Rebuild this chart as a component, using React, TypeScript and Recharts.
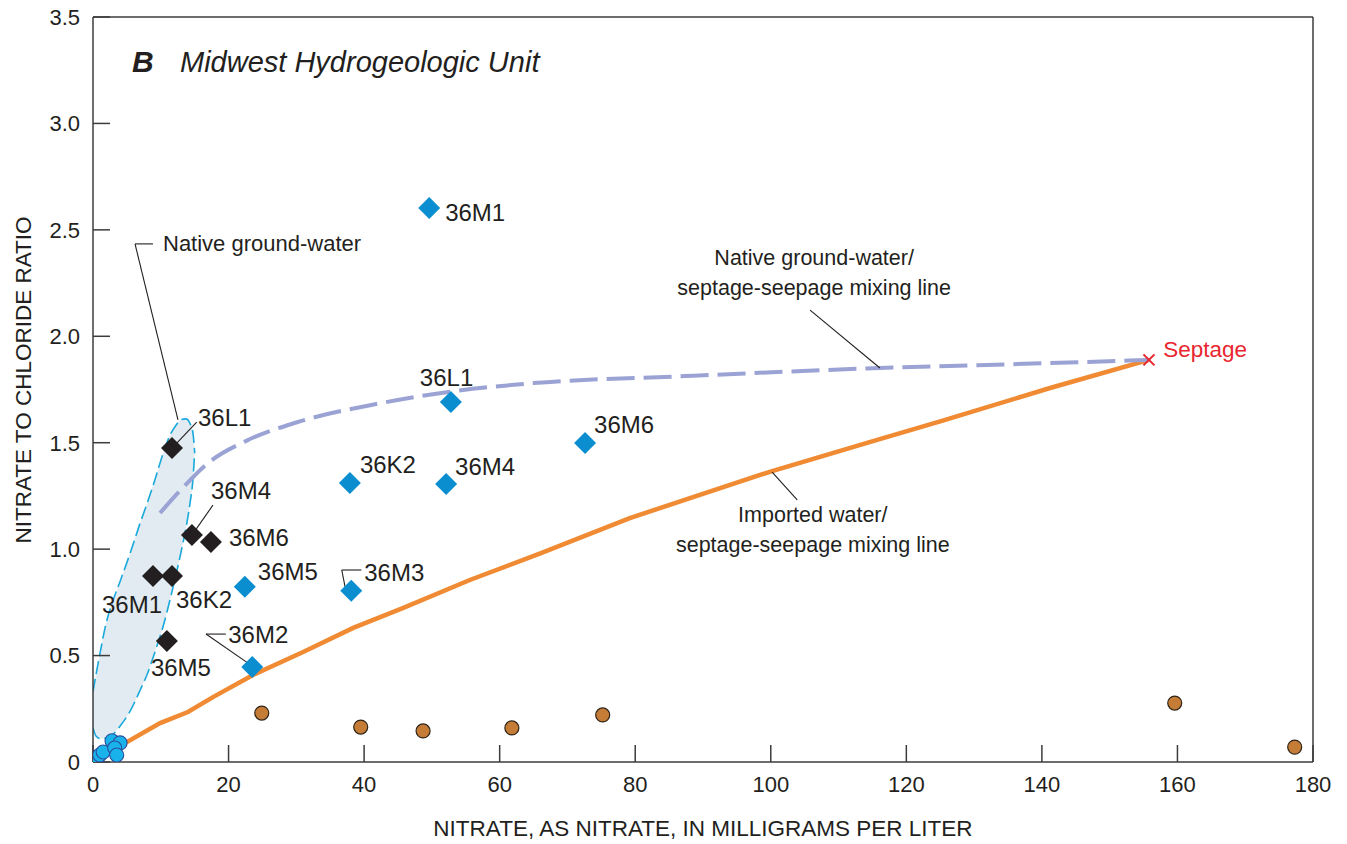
import React from 'react';
import {
  ComposedChart,
  XAxis,
  YAxis,
  Scatter,
  Line,
  Area,
  ReferenceLine,
  ReferenceDot,
  Label,
} from 'recharts';

const FONT = '"Liberation Sans", Arial, Helvetica, sans-serif';
const INK = '#231f20';
const AXIS = '#3c3c3c';

// ---------- axes ----------
const xTicks = [0, 20, 40, 60, 80, 100, 120, 140, 160, 180];
const yTicks = [0, 0.5, 1, 1.5, 2, 2.5, 3, 3.5];

// ---------- data ----------
// Midwest hydrogeologic unit wells (blue diamonds)
const midwestWells = [
  { x: 49.6, y: 2.603, name: '36M1' },
  { x: 52.8, y: 1.691, name: '36L1' },
  { x: 72.6, y: 1.499, name: '36M6' },
  { x: 37.9, y: 1.311, name: '36K2' },
  { x: 52.1, y: 1.306, name: '36M4' },
  { x: 22.4, y: 0.823, name: '36M5' },
  { x: 38.1, y: 0.805, name: '36M3' },
  { x: 23.5, y: 0.446, name: '36M2' },
];

// Same wells, other sampling (black diamonds)
const otherWells = [
  { x: 11.66, y: 1.475, name: '36L1' },
  { x: 14.6, y: 1.066, name: '36M4' },
  { x: 17.4, y: 1.034, name: '36M6' },
  { x: 8.85, y: 0.874, name: '36M1' },
  { x: 11.66, y: 0.874, name: '36K2' },
  { x: 10.9, y: 0.568, name: '36M5' },
];

// Imported water (brown circles)
const importedWater = [
  { x: 24.9, y: 0.23 },
  { x: 39.5, y: 0.164 },
  { x: 48.7, y: 0.146 },
  { x: 61.8, y: 0.16 },
  { x: 75.2, y: 0.221 },
  { x: 159.6, y: 0.277 },
  { x: 177.3, y: 0.07 },
];

// Native ground water (cyan circles)
const nativeGroundWater = [
  { x: 0.3, y: 0.014 },
  { x: 0.6, y: 0.02 },
  { x: 1.0, y: 0.033 },
  { x: 1.5, y: 0.047 },
  { x: 2.8, y: 0.1 },
  { x: 4.0, y: 0.09 },
  { x: 3.2, y: 0.066 },
  { x: 3.5, y: 0.033 },
];

const septage = [{ x: 155.8, y: 1.889 }];

// Imported water / septage-seepage mixing line
const importedMixingLine = [
  { x: 3.25, y: 0.047 },
  { x: 5.0, y: 0.094 },
  { x: 9.9, y: 0.183 },
  { x: 14.0, y: 0.235 },
  { x: 17.7, y: 0.305 },
  { x: 23.6, y: 0.409 },
  { x: 31.0, y: 0.517 },
  { x: 38.4, y: 0.63 },
  { x: 45.7, y: 0.723 },
  { x: 55.6, y: 0.855 },
  { x: 66.0, y: 0.98 },
  { x: 79.2, y: 1.146 },
  { x: 100.2, y: 1.367 },
  { x: 115.7, y: 1.513 },
  { x: 125.0, y: 1.6 },
  { x: 141.2, y: 1.757 },
  { x: 155.8, y: 1.889 },
];

// Native ground-water / septage-seepage mixing line
const nativeMixingLine = [
  { x: 9.9, y: 1.17 },
  { x: 13.3, y: 1.29 },
  { x: 16.8, y: 1.4 },
  { x: 22.7, y: 1.51 },
  { x: 30.0, y: 1.595 },
  { x: 42.3, y: 1.685 },
  { x: 52.8, y: 1.74 },
  { x: 65.0, y: 1.78 },
  { x: 87.3, y: 1.813 },
  { x: 116.1, y: 1.851 },
  { x: 141.2, y: 1.874 },
  { x: 155.8, y: 1.889 },
];

// Native ground-water envelope (lower, upper) read along x
const envelopeX = [0, 0.44, 1.03, 1.92, 2.95, 3.98, 5.46, 6.93, 7.97, 9.15, 10.33, 11.36, 12.25, 12.98, 13.72, 14.31, 14.75, 15.0];
const envelopeLow = [0.16, 0.122, 0.11, 0.112, 0.13, 0.168, 0.238, 0.336, 0.41, 0.518, 0.635, 0.762, 0.88, 0.985, 1.1, 1.215, 1.33, 1.456];
const envelopeHigh = [0.33, 0.41, 0.51, 0.65, 0.758, 0.847, 0.979, 1.12, 1.214, 1.327, 1.449, 1.535, 1.582, 1.608, 1.612, 1.59, 1.545, 1.456];
const nativeEnvelope = envelopeX.map((x, i) => ({ x, range: [envelopeLow[i], envelopeHigh[i]] }));

// Leader lines (data units)
const leaderLines = [
  [{ x: 8.85, y: 2.434 }, { x: 6.2, y: 2.434 }],
  [{ x: 6.2, y: 2.434 }, { x: 12.54, y: 1.607 }],
  [{ x: 11.66, y: 1.475 }, { x: 15.3, y: 1.597 }],
  [{ x: 14.6, y: 1.066 }, { x: 17.7, y: 1.207 }],
  [{ x: 16.67, y: 0.601 }, { x: 19.6, y: 0.601 }],
  [{ x: 16.67, y: 0.601 }, { x: 23.3, y: 0.455 }],
  [{ x: 36.7, y: 0.902 }, { x: 39.6, y: 0.902 }],
  [{ x: 36.7, y: 0.902 }, { x: 37.2, y: 0.822 }],
  [{ x: 105.8, y: 2.123 }, { x: 116.1, y: 1.851 }],
  [{ x: 100.2, y: 1.362 }, { x: 103.9, y: 1.231 }],
];

// Text notes placed in data units
const notes = [
  { x: 5.75, y: 3.289, text: 'B', kind: 'panel' },
  { x: 12.84, y: 3.289, text: 'Midwest Hydrogeologic Unit', kind: 'title' },
  { x: 10.33, y: 2.434, text: 'Native ground-water', kind: 'note' },
  { x: 106.4, y: 2.368, text: 'Native ground-water/', kind: 'noteC' },
  { x: 106.4, y: 2.227, text: 'septage-seepage mixing line', kind: 'noteC' },
  { x: 106.2, y: 1.16, text: 'Imported water/', kind: 'noteC' },
  { x: 106.2, y: 1.019, text: 'septage-seepage mixing line', kind: 'noteC' },
  { x: 157.9, y: 1.94, text: 'Septage', kind: 'septage' },
];

// ---------- styles ----------
const noteStyles: Record<string, any> = {
  panel: { fontSize: 30, fontWeight: 'bold', fontStyle: 'italic', fill: INK, textAnchor: 'start' },
  title: { fontSize: 29, fontStyle: 'italic', fill: INK, textAnchor: 'start' },
  note: { fontSize: 22, fill: INK, textAnchor: 'start' },
  noteC: { fontSize: 21.5, fill: INK, textAnchor: 'middle' },
  septage: { fontSize: 22.5, fill: '#e8262f', textAnchor: 'start' },
};

const midwestLabelOffsets: Record<string, [number, number]> = {
  '36M1': [16, 5],
  '36L1': [-31, -25],
  '36M6': [9, -18],
  '36K2': [10, -18],
  '36M4': [9, -18],
  '36M5': [13, -15],
  '36M3': [13, -18],
  '36M2': [-24, -33],
};
const otherLabelOffsets: Record<string, [number, number]> = {
  '36L1': [26, -31],
  '36M4': [19, -45],
  '36M6': [18, -4],
  '36M1': [-51, 29],
  '36K2': [4, 24],
  '36M5': [-16, 26],
};

const makeDiamond = (color: string, offsets: Record<string, [number, number]>) => (props: any) => {
  const { cx, cy, payload } = props;
  if (cx == null || cy == null) return null;
  const h = 11;
  const off = offsets[payload.name] || [12, 0];
  return (
    <g>
      <polygon points={`${cx},${cy - h} ${cx + h},${cy} ${cx},${cy + h} ${cx - h},${cy}`} fill={color} />
      <text
        x={cx + off[0]}
        y={cy + off[1]}
        fontSize={24}
        fontFamily={FONT}
        fill={INK}
        dominantBaseline="central"
        textAnchor="start"
      >
        {payload.name}
      </text>
    </g>
  );
};

const blueDiamond = makeDiamond('#0b8ecf', midwestLabelOffsets);
const blackDiamond = makeDiamond('#231f20', otherLabelOffsets);

const brownCircle = (props: any) => {
  const { cx, cy } = props;
  if (cx == null) return null;
  return <circle cx={cx} cy={cy} r={7} fill="#c47c36" stroke="#2e2418" strokeWidth={1.2} />;
};

const cyanCircle = (props: any) => {
  const { cx, cy } = props;
  if (cx == null) return null;
  return <circle cx={cx} cy={cy} r={7} fill="#19b3ec" stroke="#2b4f9e" strokeWidth={1.1} />;
};

const septageMark = (props: any) => {
  const { cx, cy } = props;
  if (cx == null) return null;
  const s = 5.5;
  return (
    <g stroke="#e8262f" strokeWidth={2}>
      <line x1={cx - s} y1={cy - s} x2={cx + s} y2={cy + s} />
      <line x1={cx - s} y1={cy + s} x2={cx + s} y2={cy - s} />
    </g>
  );
};

const noteShape = (n: any) => (props: any) => {
  const { cx, cy } = props;
  if (cx == null) return null;
  const st = noteStyles[n.kind];
  return (
    <text
      x={cx}
      y={cy}
      fontFamily={FONT}
      dominantBaseline="central"
      fontSize={st.fontSize}
      fontWeight={st.fontWeight}
      fontStyle={st.fontStyle}
      fill={st.fill}
      textAnchor={st.textAnchor}
    >
      {n.text}
    </text>
  );
};

const yFormat = (v: number) => (v === 0 ? '0' : v.toFixed(1));

export default function App() {
  return (
    <div style={{ width: 1347, height: 844, background: '#fff', margin: '-8px 0 0 -8px' }}>
      <ComposedChart
        width={1347}
        height={844}
        margin={{ top: 16, right: 33, bottom: 32, left: 33 }}
      >
        <XAxis
          dataKey="x"
          type="number"
          domain={[0, 180]}
          ticks={xTicks}
          height={50}
          allowDataOverflow
          axisLine={{ stroke: AXIS, strokeWidth: 1.5 }}
          tickLine={{ stroke: AXIS, strokeWidth: 1.5 }}
          tickSize={-17}
          tickMargin={31}
          tick={{ fill: INK, fontSize: 22, fontFamily: FONT }}
          interval={0}
        >
          <Label
            content={(p: any) => {
              const vb = p.viewBox || { x: 93, y: 762, width: 1220, height: 50 };
              return (
                <text
                  x={vb.x + vb.width / 2}
                  y={vb.y + 74}
                  textAnchor="middle"
                  fontSize={22.5}
                  fontFamily={FONT}
                  fill={INK}
                >
                  NITRATE, AS NITRATE, IN MILLIGRAMS PER LITER
                </text>
              );
            }}
          />
        </XAxis>
        <XAxis
          xAxisId="top"
          orientation="top"
          type="number"
          dataKey="x"
          domain={[0, 180]}
          ticks={xTicks}
          height={1}
          axisLine={{ stroke: AXIS, strokeWidth: 1.5 }}
          tickLine={{ stroke: AXIS, strokeWidth: 1.5 }}
          tickSize={-17}
          tick={false}
          interval={0}
        />
        <YAxis
          type="number"
          domain={[0, 3.5]}
          ticks={yTicks}
          width={60}
          allowDataOverflow
          axisLine={{ stroke: AXIS, strokeWidth: 1.5 }}
          tickLine={{ stroke: AXIS, strokeWidth: 1.5 }}
          tickSize={-17}
          tickMargin={30}
          tickFormatter={yFormat}
          tick={{ fill: INK, fontSize: 22, fontFamily: FONT }}
          interval={0}
        >
          <Label
            content={(p: any) => {
              const vb = p.viewBox || { x: 33, y: 17, width: 60, height: 745 };
              const tx = vb.x - 2;
              const ty = vb.y + vb.height / 2 - 9.5;
              return (
                <text
                  x={tx}
                  y={ty}
                  transform={`rotate(-90, ${tx}, ${ty})`}
                  textAnchor="middle"
                  fontSize={22.5}
                  fontFamily={FONT}
                  fill={INK}
                >
                  NITRATE TO CHLORIDE RATIO
                </text>
              );
            }}
          />
        </YAxis>
        <YAxis
          yAxisId="right"
          orientation="right"
          type="number"
          domain={[0, 3.5]}
          ticks={yTicks}
          width={1}
          axisLine={{ stroke: AXIS, strokeWidth: 1.5 }}
          tickLine={{ stroke: AXIS, strokeWidth: 1.5 }}
          tickSize={-17}
          tick={false}
          interval={0}
        />

        <Area
          data={nativeEnvelope}
          dataKey="range"
          type="monotone"
          stroke="#1aa9dc"
          strokeWidth={1.6}
          strokeDasharray="13 5"
          fill="#e2ebf1"
          fillOpacity={1}
          dot={false}
          activeDot={false}
          isAnimationActive={false}
        />

        <Line
          data={importedMixingLine}
          dataKey="y"
          type="linear"
          stroke="#f08a33"
          strokeWidth={4.5}
          dot={false}
          activeDot={false}
          isAnimationActive={false}
        />
        <Line
          data={nativeMixingLine}
          dataKey="y"
          type="monotone"
          stroke="#9ba3d5"
          strokeWidth={4}
          strokeDasharray="28 9"
          dot={false}
          activeDot={false}
          isAnimationActive={false}
        />

        {leaderLines.map((seg, i) => (
          <ReferenceLine
            key={`leader-${i}`}
            segment={seg}
            stroke={INK}
            strokeWidth={1.1}
            ifOverflow="visible"
          />
        ))}

        <Scatter data={importedWater} dataKey="y" shape={brownCircle} isAnimationActive={false} />
        <Scatter data={nativeGroundWater} dataKey="y" shape={cyanCircle} isAnimationActive={false} />
        <Scatter data={otherWells} dataKey="y" shape={blackDiamond} isAnimationActive={false} />
        <Scatter data={midwestWells} dataKey="y" shape={blueDiamond} isAnimationActive={false} />
        <Scatter data={septage} dataKey="y" shape={septageMark} isAnimationActive={false} />

        {notes.map((n, i) => (
          <ReferenceDot
            key={`note-${i}`}
            x={n.x}
            y={n.y}
            r={0}
            ifOverflow="visible"
            shape={noteShape(n)}
          />
        ))}
      </ComposedChart>
    </div>
  );
}
